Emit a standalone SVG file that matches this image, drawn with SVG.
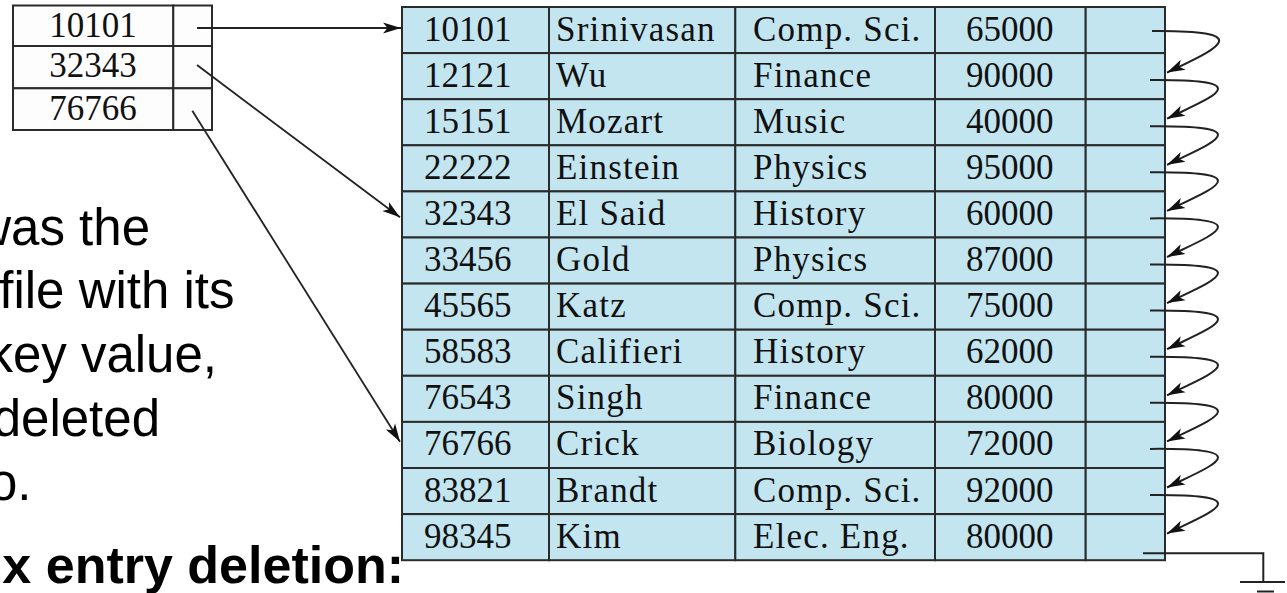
<svg xmlns="http://www.w3.org/2000/svg" width="1287" height="593" viewBox="0 0 1287 593">
<style>
  .para { font-family: "Liberation Sans", Arial, sans-serif; font-size: 51px; fill: #000; text-anchor: end; }
  .head { font-family: "Liberation Sans", Arial, sans-serif; font-size: 52px; font-weight: bold; fill: #000; text-anchor: end; }
  .cell { fill: #c3e5f0; stroke: #2b2b2b; stroke-width: 2; }
  .icell { fill: #fdfdfd; stroke: #2b2b2b; stroke-width: 2; }
  .num { font-family: "Liberation Serif", "Times New Roman", serif; font-size: 35px; fill: #111; }
  .word { font-family: "Liberation Serif", "Times New Roman", serif; font-size: 35px; fill: #111; letter-spacing: 1.2px; }
  .inum { font-family: "Liberation Serif", "Times New Roman", serif; font-size: 35px; fill: #111; text-anchor: middle; }
  .ptr { fill: none; stroke: #222; stroke-width: 1.8; marker-end: url(#ah); }
  .nxt { fill: none; stroke: #222; stroke-width: 2; marker-end: url(#ah); }
  .gnd { fill: none; stroke: #222; stroke-width: 2; }
</style>
<defs>
  <marker id="ah" markerWidth="20" markerHeight="14" refX="18" refY="7" orient="auto" markerUnits="userSpaceOnUse" viewBox="0 0 20 14">
    <path d="M0,1.5 L18,7 L0,12.5 L4.5,7 Z" fill="#111"/>
  </marker>
</defs>

<g id="slide-text">
  <text class="para" x="150" y="245">was the</text>
  <text class="para" x="234.5" y="308.3">file with its</text>
  <text class="para" x="217" y="371.7">key value,</text>
  <text class="para" x="160" y="436">deleted</text>
  <text class="para" x="31.5" y="500">o.</text>
  <text class="head" x="404" y="583.3">x entry deletion:</text>
</g>

<g id="index">
  <g id="idx-10101">
    <rect class="icell" x="13" y="5.5" width="160.3" height="40.5"/>
    <rect class="icell" x="173.3" y="5.5" width="38.7" height="40.5"/>
    <text class="inum" x="93" y="37.3">10101</text>
  </g>
  <g id="idx-32343">
    <rect class="icell" x="13" y="46" width="160.3" height="42.3"/>
    <rect class="icell" x="173.3" y="46" width="38.7" height="42.3"/>
    <text class="inum" x="93" y="77">32343</text>
  </g>
  <g id="idx-76766">
    <rect class="icell" x="13" y="88.3" width="160.3" height="41.7"/>
    <rect class="icell" x="173.3" y="88.3" width="38.7" height="41.7"/>
    <text class="inum" x="93" y="120">76766</text>
  </g>
</g>

<g id="file">
  <g id="rec-10101">
    <rect class="cell" x="402" y="7" width="147" height="46.1"/><rect class="cell" x="549" y="7" width="186.3" height="46.1"/><rect class="cell" x="735.3" y="7" width="199.7" height="46.1"/><rect class="cell" x="935" y="7" width="150.7" height="46.1"/><rect class="cell" x="1085.7" y="7" width="79.3" height="46.1"/>
    <text class="num" x="424" y="40.5">10101</text><text class="word" x="556" y="40.5">Srinivasan</text><text class="word" x="753" y="40.5">Comp. Sci.</text><text class="num" x="966" y="40.5">65000</text>
  </g>
  <g id="rec-12121">
    <rect class="cell" x="402" y="53.1" width="147" height="46.1"/><rect class="cell" x="549" y="53.1" width="186.3" height="46.1"/><rect class="cell" x="735.3" y="53.1" width="199.7" height="46.1"/><rect class="cell" x="935" y="53.1" width="150.7" height="46.1"/><rect class="cell" x="1085.7" y="53.1" width="79.3" height="46.1"/>
    <text class="num" x="424" y="86.6">12121</text><text class="word" x="556" y="86.6">Wu</text><text class="word" x="753" y="86.6">Finance</text><text class="num" x="966" y="86.6">90000</text>
  </g>
  <g id="rec-15151">
    <rect class="cell" x="402" y="99.2" width="147" height="46.1"/><rect class="cell" x="549" y="99.2" width="186.3" height="46.1"/><rect class="cell" x="735.3" y="99.2" width="199.7" height="46.1"/><rect class="cell" x="935" y="99.2" width="150.7" height="46.1"/><rect class="cell" x="1085.7" y="99.2" width="79.3" height="46.1"/>
    <text class="num" x="424" y="132.7">15151</text><text class="word" x="556" y="132.7">Mozart</text><text class="word" x="753" y="132.7">Music</text><text class="num" x="966" y="132.7">40000</text>
  </g>
  <g id="rec-22222">
    <rect class="cell" x="402" y="145.3" width="147" height="46.1"/><rect class="cell" x="549" y="145.3" width="186.3" height="46.1"/><rect class="cell" x="735.3" y="145.3" width="199.7" height="46.1"/><rect class="cell" x="935" y="145.3" width="150.7" height="46.1"/><rect class="cell" x="1085.7" y="145.3" width="79.3" height="46.1"/>
    <text class="num" x="424" y="178.8">22222</text><text class="word" x="556" y="178.8">Einstein</text><text class="word" x="753" y="178.8">Physics</text><text class="num" x="966" y="178.8">95000</text>
  </g>
  <g id="rec-32343">
    <rect class="cell" x="402" y="191.4" width="147" height="46.1"/><rect class="cell" x="549" y="191.4" width="186.3" height="46.1"/><rect class="cell" x="735.3" y="191.4" width="199.7" height="46.1"/><rect class="cell" x="935" y="191.4" width="150.7" height="46.1"/><rect class="cell" x="1085.7" y="191.4" width="79.3" height="46.1"/>
    <text class="num" x="424" y="224.9">32343</text><text class="word" x="556" y="224.9">El Said</text><text class="word" x="753" y="224.9">History</text><text class="num" x="966" y="224.9">60000</text>
  </g>
  <g id="rec-33456">
    <rect class="cell" x="402" y="237.5" width="147" height="46.1"/><rect class="cell" x="549" y="237.5" width="186.3" height="46.1"/><rect class="cell" x="735.3" y="237.5" width="199.7" height="46.1"/><rect class="cell" x="935" y="237.5" width="150.7" height="46.1"/><rect class="cell" x="1085.7" y="237.5" width="79.3" height="46.1"/>
    <text class="num" x="424" y="271">33456</text><text class="word" x="556" y="271">Gold</text><text class="word" x="753" y="271">Physics</text><text class="num" x="966" y="271">87000</text>
  </g>
  <g id="rec-45565">
    <rect class="cell" x="402" y="283.6" width="147" height="46.1"/><rect class="cell" x="549" y="283.6" width="186.3" height="46.1"/><rect class="cell" x="735.3" y="283.6" width="199.7" height="46.1"/><rect class="cell" x="935" y="283.6" width="150.7" height="46.1"/><rect class="cell" x="1085.7" y="283.6" width="79.3" height="46.1"/>
    <text class="num" x="424" y="317.1">45565</text><text class="word" x="556" y="317.1">Katz</text><text class="word" x="753" y="317.1">Comp. Sci.</text><text class="num" x="966" y="317.1">75000</text>
  </g>
  <g id="rec-58583">
    <rect class="cell" x="402" y="329.7" width="147" height="46.1"/><rect class="cell" x="549" y="329.7" width="186.3" height="46.1"/><rect class="cell" x="735.3" y="329.7" width="199.7" height="46.1"/><rect class="cell" x="935" y="329.7" width="150.7" height="46.1"/><rect class="cell" x="1085.7" y="329.7" width="79.3" height="46.1"/>
    <text class="num" x="424" y="363.2">58583</text><text class="word" x="556" y="363.2">Califieri</text><text class="word" x="753" y="363.2">History</text><text class="num" x="966" y="363.2">62000</text>
  </g>
  <g id="rec-76543">
    <rect class="cell" x="402" y="375.8" width="147" height="46.1"/><rect class="cell" x="549" y="375.8" width="186.3" height="46.1"/><rect class="cell" x="735.3" y="375.8" width="199.7" height="46.1"/><rect class="cell" x="935" y="375.8" width="150.7" height="46.1"/><rect class="cell" x="1085.7" y="375.8" width="79.3" height="46.1"/>
    <text class="num" x="424" y="409.3">76543</text><text class="word" x="556" y="409.3">Singh</text><text class="word" x="753" y="409.3">Finance</text><text class="num" x="966" y="409.3">80000</text>
  </g>
  <g id="rec-76766">
    <rect class="cell" x="402" y="421.9" width="147" height="46.1"/><rect class="cell" x="549" y="421.9" width="186.3" height="46.1"/><rect class="cell" x="735.3" y="421.9" width="199.7" height="46.1"/><rect class="cell" x="935" y="421.9" width="150.7" height="46.1"/><rect class="cell" x="1085.7" y="421.9" width="79.3" height="46.1"/>
    <text class="num" x="424" y="455.4">76766</text><text class="word" x="556" y="455.4">Crick</text><text class="word" x="753" y="455.4">Biology</text><text class="num" x="966" y="455.4">72000</text>
  </g>
  <g id="rec-83821">
    <rect class="cell" x="402" y="468" width="147" height="46.1"/><rect class="cell" x="549" y="468" width="186.3" height="46.1"/><rect class="cell" x="735.3" y="468" width="199.7" height="46.1"/><rect class="cell" x="935" y="468" width="150.7" height="46.1"/><rect class="cell" x="1085.7" y="468" width="79.3" height="46.1"/>
    <text class="num" x="424" y="501.5">83821</text><text class="word" x="556" y="501.5">Brandt</text><text class="word" x="753" y="501.5">Comp. Sci.</text><text class="num" x="966" y="501.5">92000</text>
  </g>
  <g id="rec-98345">
    <rect class="cell" x="402" y="514.1" width="147" height="46.1"/><rect class="cell" x="549" y="514.1" width="186.3" height="46.1"/><rect class="cell" x="735.3" y="514.1" width="199.7" height="46.1"/><rect class="cell" x="935" y="514.1" width="150.7" height="46.1"/><rect class="cell" x="1085.7" y="514.1" width="79.3" height="46.1"/>
    <text class="num" x="424" y="547.6">98345</text><text class="word" x="556" y="547.6">Kim</text><text class="word" x="753" y="547.6">Elec. Eng.</text><text class="num" x="966" y="547.6">80000</text>
  </g>
</g>

<g id="connectors">
  <path class="ptr" d="M197,28 H401"/>
  <path class="ptr" d="M197,65 L400,217.3"/>
  <path class="ptr" d="M192.3,110.7 L400,441.7"/>

  <path class="nxt" d="M1152,31 C1264,30 1212,50.6 1167,72.6"/>
  <path class="nxt" d="M1150,80.1 C1262,79.1 1212,96.7 1167,118.7"/>
  <path class="nxt" d="M1150,126.2 C1262,125.2 1212,142.8 1167,164.8"/>
  <path class="nxt" d="M1150,172.3 C1262,171.3 1212,188.9 1167,210.9"/>
  <path class="nxt" d="M1150,218.4 C1262,217.4 1212,235 1167,257"/>
  <path class="nxt" d="M1150,264.5 C1262,263.5 1212,281.1 1167,303.1"/>
  <path class="nxt" d="M1150,310.6 C1262,309.6 1212,327.2 1167,349.2"/>
  <path class="nxt" d="M1150,356.7 C1262,355.7 1212,373.3 1167,395.3"/>
  <path class="nxt" d="M1150,402.8 C1262,401.8 1212,419.4 1167,441.4"/>
  <path class="nxt" d="M1150,448.9 C1262,447.9 1212,465.5 1167,487.5"/>
  <path class="nxt" d="M1150,495 C1262,494 1212,511.6 1167,533.6"/>

  <path class="gnd" d="M1143,553.3 H1263.3 V582"/>
  <path class="gnd" d="M1240,582 H1285"/>
  <path class="gnd" d="M1257,591.5 H1274" stroke-width="3"/>
</g>
</svg>
